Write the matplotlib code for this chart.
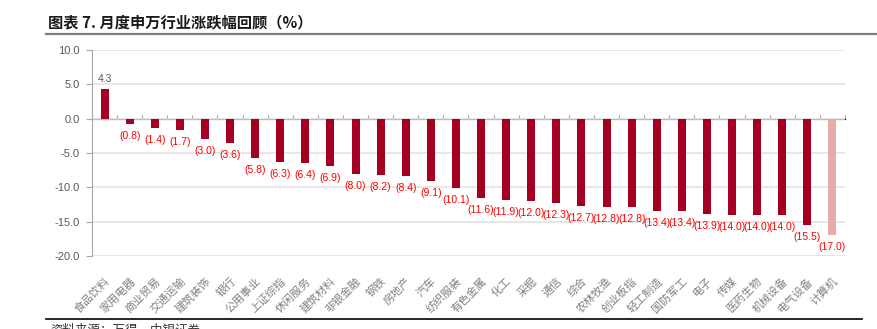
import matplotlib
matplotlib.use("Agg")
import matplotlib.pyplot as plt
import numpy as np

plt.rcParams['font.family'] = ['Liberation Sans', 'Noto Sans CJK SC', 'DejaVu Sans']

categories = ["食品饮料", "家用电器", "商业贸易", "交通运输", "建筑装饰", "银行", "公用事业",
              "上证综指", "休闲服务", "建筑材料", "非银金融", "钢铁", "房地产", "汽车",
              "纺织服装", "有色金属", "化工", "采掘", "通信", "综合", "农林牧渔", "创业板指",
              "轻工制造", "国防军工", "电子", "传媒", "医药生物", "机械设备", "电气设备", "计算机"]
values = [4.3, -0.8, -1.4, -1.7, -3.0, -3.6, -5.8, -6.3, -6.4, -6.9, -8.0, -8.2, -8.4, -9.1,
          -10.1, -11.6, -11.9, -12.0, -12.3, -12.7, -12.8, -12.8, -13.4, -13.4, -13.9, -14.0,
          -14.0, -14.0, -15.5, -17.0]
yticks = [10.0, 5.0, 0.0, -5.0, -10.0, -15.0, -20.0]

W, H = 878, 329
fig = plt.figure(figsize=(W / 100, H / 100), dpi=100)
ax = fig.add_axes([92 / W, 1 - 256 / H, (845 - 92) / W, (256 - 50) / H])

x = np.arange(len(categories))
colors = ['#A50021'] * (len(values) - 1) + ['#E9AAAA']
ax.bar(x, values, width=0.32, color=colors, zorder=3)

ax.set_xlim(-0.5, len(categories) - 0.5)
ax.set_ylim(-20, 10)
ax.set_yticks(yticks)
ax.set_yticklabels([f"{v:.1f}" for v in yticks], fontsize=8, color='#595959')
ax.yaxis.grid(True, color='#E3E3E3', linewidth=1.2, zorder=0)
for s in ['top', 'right', 'bottom']:
    ax.spines[s].set_visible(False)
ax.spines['left'].set_color('#A6A6A6')
ax.tick_params(axis='y', length=4, color='#A6A6A6', width=0.8, pad=5)

ax.set_xticks(x)
ax.set_xticklabels(categories, rotation=45, ha='right', va='top', rotation_mode='anchor',
                   fontsize=8, color='#808080', family=['Noto Sans CJK SC'], fontweight='light')
ax.tick_params(axis='x', length=0, pad=14)

sec = ax.secondary_xaxis(2 / 3)
sec.set_xticks(np.arange(len(categories) + 1) - 0.5)
sec.set_xticklabels([])
sec.tick_params(axis='x', direction='out', length=3, color='#A6A6A6', width=0.8)
sec.spines['bottom'].set_color('#A6A6A6')
sec.spines['bottom'].set_linewidth(1.0)

for xi, v in zip(x, values):
    if v >= 0:
        ax.annotate(f"{v:.1f}", (xi, v), xytext=(0, 4), textcoords='offset points',
                    ha='center', va='bottom', fontsize=7.5, color='#595959')
    else:
        ax.annotate(f"({abs(v):.1f})", (xi, v), xytext=(0, -5), textcoords='offset points',
                    ha='center', va='top', fontsize=7.5, color='#FF0000')

fig.text(48 / W, 1 - 22 / H, "图表 7. 月度申万行业涨跌幅回顾（%）", fontsize=11, fontweight='bold',
         color='#1A1A1A', ha='left', va='center', family=['Noto Sans CJK SC', 'DejaVu Sans'])
fig.add_artist(plt.Line2D([46 / W, 1.0], [1 - 34 / H, 1 - 34 / H], color='#808080', linewidth=1.6))
fig.add_artist(plt.Line2D([46 / W, 862 / W], [1 - 319 / H, 1 - 319 / H], color='#000000', linewidth=1.2))
fig.text(50 / W, 1 - 324 / H, "资料来源：万得，中银证券", fontsize=9, color='#333333',
         ha='left', va='top', family=['Noto Sans CJK SC'])

fig.savefig("out.png", dpi=100)
